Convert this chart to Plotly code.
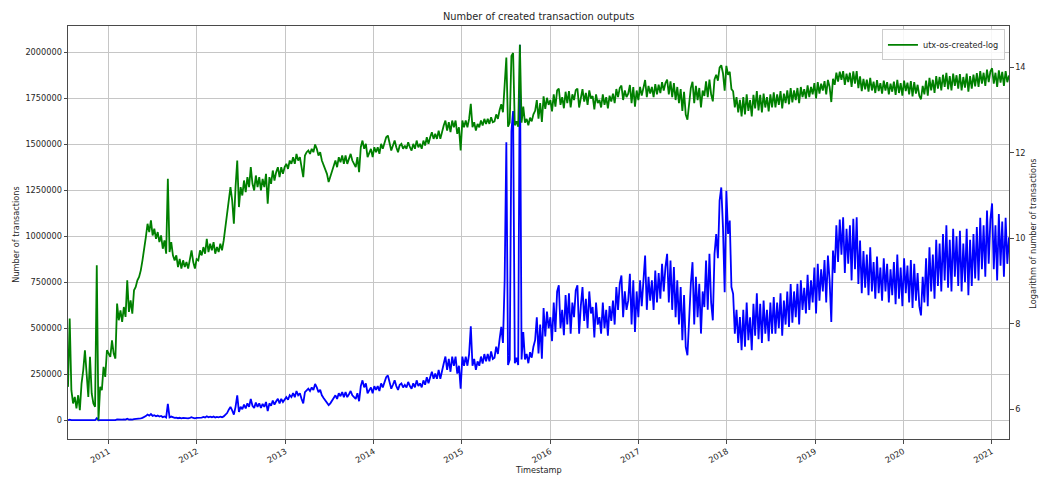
import numpy as np
import pandas as pd
import plotly.graph_objects as go

# Weekly readings of created transaction outputs, starting mid-July 2010
start_date = "2010-07-17"
step_days = 7

outputs_2010_2011 = [
    681, 3365, 630, 462, 539, 411, 560, 395, 736, 1005,
    1605, 796, 539, 1373, 583, 462, 427, 11700, 312, 681,
    630, 1086, 861, 1605, 1485,
    1373, 2025, 1485, 1320, 4776, 3235, 4085, 3112, 4415, 3498,
    8233, 3929, 5163, 3777, 6522, 7044, 8233, 8900, 10400, 13150,
    16600, 22670, 30950, 25480, 33470, 23570, 27530, 21800, 25480, 20170,
    23570, 17250, 20970, 15350, 88600, 15960, 20170, 14765, 13150, 14765,
    11250, 13560, 10830, 13150, 11250, 12640, 10830, 13560, 16600, 12640,
    10830, 13560,
]

outputs_2012 = [
    13150, 16600, 14765, 17940, 15350, 21800, 15960, 19400, 16600, 20170,
    15350, 17940, 15960, 19400, 16600, 20970, 28630, 39120, 57730, 72900,
    53400, 30950, 72900, 135900, 45720, 72900, 60030, 85200, 64900, 92100,
    72900, 116300, 78900, 67450, 95800, 72900, 92100, 67450, 88600, 72900,
    99500, 49450, 92100, 78900, 107600, 85200, 103500, 116300, 92100, 116300,
    99500, 116300,
]

outputs_2013_2015 = [
    125700, 111800, 135900, 125700, 147000, 125700, 158900, 135900, 147000, 116300,
    92100, 152800, 165200, 171800, 158900, 178700, 165200, 197600, 178700, 152800,
    165200, 135900, 120900, 107600, 99500, 82300, 92100, 103500, 120900, 135900,
    116300, 147000, 130800, 152800, 125700, 152800, 125700, 141300, 158900, 135900,
    125700, 116300, 147000, 103500, 185600, 216900, 178700, 200600, 147000, 165200,
    178700, 147000, 185600, 165200, 185600, 158900, 200600, 178700, 208600, 234400,
    243800, 200600, 171800, 192900, 216900, 185600, 165200, 192900, 200600, 178700,
    192900, 178700, 208600, 185600, 171800, 200600, 178700, 216900, 185600, 200600,
    178700, 216900, 192900, 234400, 200600, 234400, 263600, 225500, 253600, 225500,
    274000, 225500, 274000, 308100, 346200, 274000, 333000, 263600, 346200, 296300,
    346200, 253600, 296300, 171800, 346200, 296300, 346200, 296300, 359900, 511000,
    296300, 333000, 274000, 320300, 296300, 346200, 308100, 359900, 320300, 359900,
    320300, 374000, 333000, 340000, 400000, 360000, 440000, 507000, 420000, 760000,
    1510000, 300000, 330000, 1570000, 1680000, 310000, 340000, 300000, 2040000, 330000,
    480000, 330000, 360000, 310000, 370000, 340000, 400000,
]

outputs_2015_2018 = [
    435000, 560000, 363000, 520000, 335000, 610000, 455000, 590000, 500000, 560000,
    430000, 640000, 480000, 700000, 733000, 500000, 600000, 462000, 680000, 520000,
    690000, 470000, 640000, 560000, 705000, 733000, 470000, 620000, 724000, 540000,
    660000, 500000, 700000, 580000, 615000, 450000, 640000, 520000, 560000, 470000,
    640000, 500000, 600000, 460000, 620000, 540000, 650000, 520000, 724000, 600000,
    742000, 787000, 560000, 700000, 600000, 650000, 796000, 520000, 760000, 480000,
    700000, 560000, 760000, 620000, 740000, 895000, 600000, 780000, 650000, 760000,
    600000, 814000, 640000, 800000, 660000, 850000, 700000, 832000, 904000, 640000,
    868000, 600000, 832000, 560000, 760000, 520000, 724000, 435000, 680000, 399000,
    353000, 560000, 740000, 859000, 520000, 780000, 560000, 742000, 471000, 700000,
    615000, 868000, 600000, 904000, 640000, 543000, 904000, 1012000, 880000, 1193000,
    1265000, 1048000, 696000, 1247000, 1012000, 1085000, 724000, 687000, 471000, 600000,
    420000, 561000, 381000, 600000, 400000, 640000, 435000, 560000, 381000, 633000,
    460000, 690000, 440000, 633000, 420000, 650000, 470000, 600000, 430000, 640000,
    470000,
]

outputs_2018_2021 = [
    669000, 470000, 640000, 500000, 690000, 460000, 650000, 520000, 700000, 507000,
    740000, 530000, 700000, 560000, 742000, 520000, 760000, 600000, 720000, 580000,
    790000, 600000, 760000, 640000, 830000, 580000, 850000, 650000, 820000, 700000,
    870000, 640000, 895000, 760000, 534000, 922000, 800000, 1060000, 860000, 1090000,
    900000, 1103000, 800000, 1040000, 850000, 1060000, 760000, 1095000, 820000, 1103000,
    740000, 976000, 690000, 920000, 720000, 900000, 680000, 940000, 700000, 860000,
    660000, 890000, 690000, 830000, 650000, 880000, 700000, 850000, 640000, 820000,
    680000, 860000, 630000, 900000, 660000, 830000, 620000, 880000, 690000, 840000,
    640000, 870000, 610000, 850000, 650000, 800000, 620000, 570000, 780000, 640000,
    880000, 620000, 940000, 700000, 900000, 660000, 980000, 730000, 960000, 700000,
    1012000, 760000, 1060000, 720000, 980000, 700000, 1040000, 780000, 1000000, 730000,
    1030000, 700000, 960000, 750000, 1040000, 680000, 980000, 730000, 1012000, 770000,
    1050000, 760000, 1100000, 820000, 1060000, 780000, 1139000, 850000, 1090000, 1178000,
    820000, 1060000, 760000, 1121000, 840000, 1080000, 780000, 1100000, 850000, 994000,
]

count_ticks = [0, 250000, 500000, 750000, 1000000, 1250000, 1500000, 1750000, 2000000]
log_ticks = [6, 8, 10, 12, 14]
year_ticks = [f"{y}-01-01" for y in range(2011, 2022)]
year_labels = [str(y) for y in range(2011, 2022)]

outputs_created = (outputs_2010_2011 + outputs_2012 + outputs_2013_2015
                   + outputs_2015_2018 + outputs_2018_2021)
dates = pd.date_range(start_date, periods=len(outputs_created), freq=f"{step_days}D")
counts = np.array(outputs_created, dtype=float)
log_counts = np.log(counts)


def padded(values, frac=0.05):
    lo, hi = float(np.min(values)), float(np.max(values))
    pad = (hi - lo) * frac
    return [lo - pad, hi + pad]


TEXT = "#262626"
GRID = "#c6c6c6"
SPINE = "#4a4a4a"
FONT = "DejaVu Sans"

fig = go.Figure()
fig.add_trace(go.Scatter(
    x=dates, y=counts, mode="lines", name="utx-os-created",
    line=dict(color="#0000ff", width=1.8), showlegend=False, yaxis="y",
))
fig.add_trace(go.Scatter(
    x=dates, y=log_counts, mode="lines", name="utx-os-created-log",
    line=dict(color="#008000", width=1.8), yaxis="y2",
))

fig.update_layout(
    width=1040, height=478,
    margin=dict(l=68, r=31, t=26, b=39),
    paper_bgcolor="white", plot_bgcolor="white",
    font=dict(family=FONT, size=8.2, color=TEXT),
    xaxis=dict(
        type="date", range=[dates[0], dates[-1]],
        tickvals=year_ticks, ticktext=year_labels, tickangle=-30,
        ticks="outside", ticklen=3.5, tickcolor=SPINE,
        showgrid=True, gridcolor=GRID, gridwidth=1,
        showline=True, linecolor=SPINE, linewidth=1, mirror=True,
        zeroline=False, tickfont=dict(size=8.2, color=TEXT),
    ),
    yaxis=dict(
        range=padded(counts), tickvals=count_ticks, tickformat="d",
        ticks="outside", ticklen=3.5, tickcolor=SPINE,
        showgrid=True, gridcolor=GRID, gridwidth=1,
        showline=True, linecolor=SPINE, linewidth=1,
        zeroline=False, tickfont=dict(size=8.2, color=TEXT),
    ),
    yaxis2=dict(
        overlaying="y", side="right", range=padded(log_counts),
        tickvals=log_ticks, ticks="outside", ticklen=3.5, tickcolor=SPINE,
        showgrid=False, showline=True, linecolor=SPINE, linewidth=1,
        zeroline=False, tickfont=dict(size=8.2, color=TEXT),
    ),
    legend=dict(
        x=0.9957, y=0.992, xanchor="right", yanchor="top",
        bgcolor="rgba(255,255,255,0.85)", bordercolor="#cccccc", borderwidth=1,
        font=dict(size=8.2, color=TEXT), itemwidth=30, tracegroupgap=0,
    ),
    annotations=[
        dict(text="Number of created transaction outputs", xref="paper", yref="paper",
             x=0.5, y=1.024, xanchor="center", yanchor="middle", showarrow=False,
             font=dict(size=9.8, color=TEXT)),
        dict(text="Timestamp", xref="paper", yref="paper",
             x=0.5, y=-0.075, xanchor="center", yanchor="middle", showarrow=False,
             font=dict(size=8.2, color=TEXT)),
        dict(text="Number of transactions", xref="paper", yref="paper",
             x=-0.0553, y=0.497, xanchor="center", yanchor="middle", showarrow=False,
             textangle=-90, font=dict(size=8.2, color=TEXT)),
        dict(text="Logarithm of number of transactions", xref="paper", yref="paper",
             x=1.0255, y=0.497, xanchor="center", yanchor="middle", showarrow=False,
             textangle=-90, font=dict(size=8.2, color=TEXT)),
    ],
)

fig.write_html("out.html")
